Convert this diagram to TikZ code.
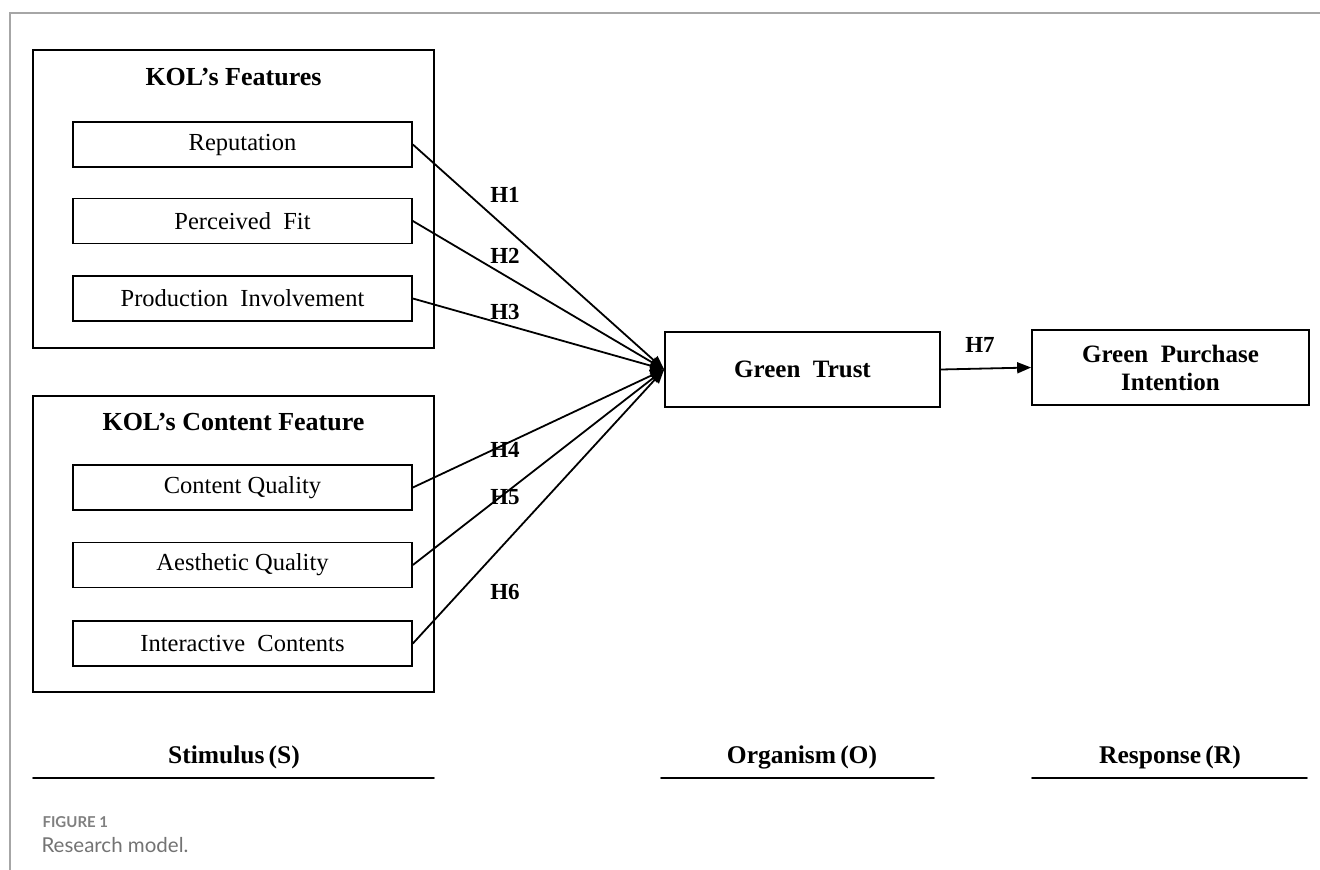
\documentclass[tikz,border=0pt]{standalone}
\usepackage{fontspec}
\setmainfont{Liberation Serif}
\newfontfamily\capfont{Lato}
\usetikzlibrary{arrows.meta}

\tikzset{
  item/.style={draw, line width=1.7pt, minimum width=339pt, minimum height=45pt, inner sep=0pt, font=\fontsize{24.5}{28}\selectfont},
  group/.style={draw, line width=1.7pt, minimum width=401pt, inner sep=0pt},
  grouptitle/.style={font=\fontsize{26}{30}\selectfont\bfseries},
  target/.style={draw, line width=1.7pt, minimum height=75pt, inner sep=0pt, align=center, font=\fontsize{25}{28}\selectfont\bfseries},
  hyp/.style={font=\fontsize{23}{26}\selectfont\bfseries},
  stage/.style={font=\fontsize{25.5}{28}\selectfont\bfseries},
  link/.style={line width=1.8pt, -{Triangle[length=14pt,width=11pt]}},
}

\begin{document}
\begin{tikzpicture}[x=1pt, y=-1pt, line cap=round]
  \useasboundingbox (0,0) rectangle (1320,870);
  % ---------- page frame ----------
  \draw[gray!70, line width=1.5pt] (10,870) -- (10,13) -- (1320,13);
  % ---------- 1. KOL's features ----------
  \node[group, minimum height=298pt] (feat) at (233.5,199) {};
  \node[grouptitle] (feattitle) at (233.5,77) {KOL’s Features};
  \node[item] (rep)  at (242.5,144.5) {Reputation};
  \node[item] (fit)  at (242.5,221)   {Perceived\ \ Fit};
  \node[item] (prod) at (242.5,298.5) {Production\ \ Involvement};
  % ---------- 2. KOL's content feature ----------
  \node[group, minimum height=296pt] (cont) at (233.5,544) {};
  \node[grouptitle] (conttitle) at (233.5,422) {KOL’s Content Feature};
  \node[item] (qual) at (242.5,487.5) {Content Quality};
  \node[item] (aes)  at (242.5,565)   {Aesthetic Quality};
  \node[item] (inter) at (242.5,643.5) {Interactive\ \ Contents};
  % ---------- 3. organism and response ----------
  \node[target, minimum width=275pt] (trust) at (802.5,369.5) {Green\ \ Trust};
  \node[target, minimum width=277pt] (gpi) at (1170.5,367.5) {Green\ \ Purchase\\Intention};
  % ---------- converging arrows ----------
  \foreach \src in {rep,fit,prod,qual,aes,inter}
    {\draw[link] (\src.east) -- (trust.west);}
  \draw[link] (trust.east) -- (gpi.west);
  % ---------- hypothesis labels ----------
  \foreach \n/\x/\y in {1/505/195, 2/505/256, 3/505/312, 4/505/450, 5/505/497, 6/505/592, 7/980/345}
    {\node[hyp] (h\n) at (\x,\y) {H\n};}
  % ---------- stages ----------
  \node[stage] (stim) at (234,757) {Stimulus\,(S)};
  \node[stage] (org)  at (802,757) {Organism\,(O)};
  \node[stage] (resp) at (1170,757) {Response\,(R)};
  \draw[line width=1.7pt] (33,778) -- (434,778);
  \draw[line width=1.7pt] (661,778) -- (934,778);
  \draw[line width=1.7pt] (1032,778) -- (1307,778);
  % ---------- caption ----------
  \node[anchor=west, gray, font=\capfont\fontsize{15}{18}\selectfont\bfseries] (fig) at (39,822) {FIGURE 1};
  \node[anchor=west, gray!90!black, font=\capfont\fontsize{20.5}{22}\selectfont] (capt) at (38,845) {Research model.};
\end{tikzpicture}
\end{document}
